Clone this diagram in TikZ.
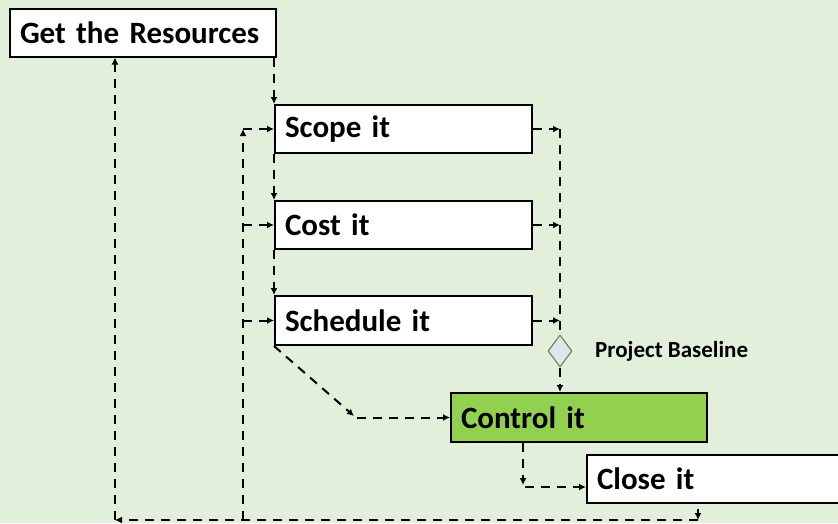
\documentclass[tikz,border=0pt]{standalone}
\usepackage{fontspec}
\setmainfont{Carlito}
\usetikzlibrary{shapes.geometric,arrows.meta}
\definecolor{bg}{HTML}{E2EFDA}
\definecolor{ctrlgreen}{HTML}{92D050}
\definecolor{dfill}{HTML}{DEE6F0}
\definecolor{dline}{HTML}{5B7B3B}
\begin{document}
\begin{tikzpicture}[x=1pt,y=-1pt,
  box/.style={draw=black, line width=2pt, fill=white, inner xsep=10pt, inner ysep=0pt,
    minimum height=48pt, align=left, font=\fontsize{31}{31}\selectfont\bfseries},
  dline/.style={line width=2pt, dash pattern=on 9pt off 7pt},
  conn/.style={dline, -{Latex[length=7pt,width=7pt]}},
  lbl/.style={font=\fontsize{23}{23}\selectfont\bfseries, anchor=west, inner sep=0pt}]
\path[use as bounding box, fill=bg] (0,0) rectangle (838,523);
\clip (0,0) rectangle (838,523);
% boxes
\node[box, minimum width=266pt, text width=246pt] (res) at (143,32.5) {Get the Resources};
\node[box, minimum width=257pt, text width=237pt] (scope) at (403.5,129) {Scope it};
\node[box, minimum width=257pt, text width=237pt] (cost) at (403.5,225) {Cost it};
\node[box, minimum width=257pt, text width=237pt, minimum height=49pt] (sched) at (403.5,320.5) {Schedule it};
\node[box, minimum width=256pt, text width=236pt, minimum height=49pt, fill=ctrlgreen] (ctrl) at (579,417.5) {Control it};
\node[box, minimum width=270pt, text width=250pt] (close) at (722,479) {Close it};
\node[draw=dline, line width=1pt, fill=dfill, shape=diamond, minimum width=24pt, minimum height=32pt, inner sep=0pt] (dia) at (560,351) {};
\node[lbl] (pb) at (595,351) {Project Baseline};
% coordinates
\coordinate (lt) at (243,129);
\coordinate (lb) at (243,520);
\coordinate (bl) at (115,520);
\coordinate (br) at (698,520);
\coordinate (brtop) at (698,509);
\coordinate (rt) at (560,129);
\coordinate (dg) at (354,416);
\coordinate (hs) at (357,417.5);
\coordinate (cc) at (523,485);
\coordinate (cc2) at (525,487);
% down chain
\draw[conn] (scope.north west |- res.south) -- (scope.north west);
\draw[conn] (scope.south west) -- (cost.north west);
\draw[conn] (cost.south west) -- (sched.north west);
% loop back
\draw[conn] (br) -- (bl);
\draw[conn] (bl) -- (res.south -| bl);
\draw[conn] (brtop) -- (br);
\draw[conn] (lb) -- (lt);
\draw[conn] (lt) -- (scope.west);
\draw[conn] (lt |- cost.west) -- (cost.west);
\draw[conn] (lt |- sched.west) -- (sched.west);
% right side
\draw[conn] (scope.east) -- (rt);
\draw[conn] (cost.east) -- (cost.east -| rt);
\draw[conn] (sched.east) -- (sched.east -| rt);
\draw[dline] (rt) -- (dia.north);
\draw[conn] (dia.south) -- (dia.south |- ctrl.north);
% schedule to control
\draw[conn] (sched.south west) -- (dg);
\draw[conn] (hs) -- (ctrl.west);
% control to close
\draw[conn] (ctrl.south -| cc) -- (cc);
\draw[conn] (cc2) -- (close.west |- cc2);
\end{tikzpicture}
\end{document}
